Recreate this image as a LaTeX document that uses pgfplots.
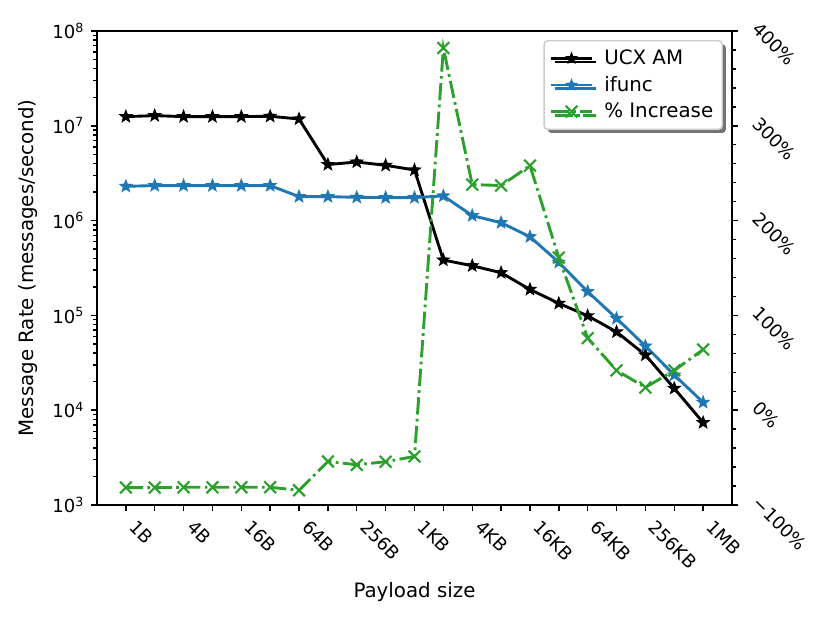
\documentclass[border=0pt]{standalone}
\usepackage{fontspec}
\setmainfont{DejaVu Sans}
\usepackage{pgfplots}
\pgfplotsset{compat=1.18}
\usetikzlibrary{shadows}
\definecolor{mplblue}{HTML}{1F77B4}
\definecolor{mplgreen}{HTML}{2CA02C}
\pgfdeclareplotmark{fstar}{%
  \pgfpathmoveto{\pgfpointpolar{90}{\pgfplotmarksize}}%
  \pgfpathlineto{\pgfpointpolar{126}{0.42\pgfplotmarksize}}%
  \pgfpathlineto{\pgfpointpolar{162}{\pgfplotmarksize}}%
  \pgfpathlineto{\pgfpointpolar{198}{0.42\pgfplotmarksize}}%
  \pgfpathlineto{\pgfpointpolar{234}{\pgfplotmarksize}}%
  \pgfpathlineto{\pgfpointpolar{270}{0.42\pgfplotmarksize}}%
  \pgfpathlineto{\pgfpointpolar{306}{\pgfplotmarksize}}%
  \pgfpathlineto{\pgfpointpolar{342}{0.42\pgfplotmarksize}}%
  \pgfpathlineto{\pgfpointpolar{18}{\pgfplotmarksize}}%
  \pgfpathlineto{\pgfpointpolar{54}{0.42\pgfplotmarksize}}%
  \pgfpathclose
  \pgfusepathqfillstroke
}
\begin{document}
\begin{tikzpicture}
\pgfplotsset{
  common/.style={
    at={(0,0)}, anchor=south west,
    scale only axis, width=352.54pt, height=263.16pt,
    xmin=-1, xmax=21,
    tick align=outside,
    major tick length=3.5pt, minor tick length=2pt,
    every tick/.style={black, line width=0.8pt},
    axis line style={line width=0.8pt},
    tick label style={font=\fontsize{10}{12}\selectfont},
    label style={font=\fontsize{11}{13}\selectfont},
  },
}
\begin{semilogyaxis}[common,
  ymin=1e3, ymax=1e8,
  xtick={0,...,20},
  xticklabels={1B,,4B,,16B,,64B,,256B,,1KB,,4KB,,16KB,,64KB,,256KB,,1MB},
  xticklabel style={xshift=6.5pt, yshift=-4pt, rotate=-45, anchor=north west, inner sep=0pt},
  ytick={1e3,1e4,1e5,1e6,1e7,1e8},
  yticklabels={10\textsuperscript{3},10\textsuperscript{4},10\textsuperscript{5},10\textsuperscript{6},10\textsuperscript{7},10\textsuperscript{8}},
  xtick pos=bottom, ytick pos=left,
  xlabel={Payload size},
  ylabel={Message Rate (messages/second)},
  xlabel style={at={(axis description cs:0.5,-0.1835)}, anchor=center},
  ylabel style={at={(axis description cs:-0.1087,0.5)}, anchor=center},
]
\addplot[black, line width=1.6pt, mark=fstar, mark size=3.4pt, mark options={line width=0.6pt}] coordinates {
(0,1.25e7) (1,1.28e7) (2,1.25e7) (3,1.25e7) (4,1.25e7) (5,1.26e7) (6,1.18e7)
(7,3.9e6) (8,4.15e6) (9,3.83e6) (10,3.42e6) (11,3.84e5) (12,3.34e5) (13,2.82e5)
(14,1.88e5) (15,1.34e5) (16,9.9e4) (17,6.7e4) (18,3.82e4) (19,1.70e4) (20,7.4e3)
};
\addplot[mplblue, line width=1.6pt, mark=fstar, mark size=3.4pt, mark options={line width=0.6pt}] coordinates {
(0,2.3e6) (1,2.34e6) (2,2.34e6) (3,2.34e6) (4,2.34e6) (5,2.34e6) (6,1.79e6)
(7,1.79e6) (8,1.76e6) (9,1.75e6) (10,1.75e6) (11,1.82e6) (12,1.13e6) (13,9.5e5)
(14,6.76e5) (15,3.63e5) (16,1.78e5) (17,9.3e4) (18,4.75e4) (19,2.35e4) (20,1.21e4)
};
\end{semilogyaxis}
\begin{axis}[common,
  ymin=-100, ymax=400,
  axis x line=none,
  axis y line*=right,
  ytick={-100,0,100,200,300,400},
  yticklabels={−100\%,0\%,100\%,200\%,300\%,400\%},
  minor y tick num=4,
  yticklabel style={xshift=12.5pt, yshift=5.8pt, rotate=-45, anchor=north west, inner sep=0pt},
  legend cell align=left,
  legend style={at={(axis description cs:0.9858,0.981)}, anchor=north east,
    draw=black!20, fill=white, rounded corners=2pt, line width=0.8pt,
    drop shadow={shadow xshift=2pt, shadow yshift=-2pt, fill=black!55, opacity=1},
    font=\fontsize{11}{13}\selectfont, row sep=1pt, inner xsep=3pt, inner ysep=3pt},
  legend image code/.code={\draw[mark repeat=2, mark phase=2, #1] plot coordinates {(0cm,0cm) (0.4cm,0cm) (0.8cm,0cm)}; \path (0.8cm+4pt,0cm);},
]
\addlegendimage{black, line width=1.6pt, mark=fstar, mark size=3pt, mark options={line width=0.6pt}}
\addlegendentry{UCX AM}
\addlegendimage{mplblue, line width=1.6pt, mark=fstar, mark size=3pt, mark options={line width=0.6pt}}
\addlegendentry{ifunc}
\addplot[mplgreen, line width=1.6pt, dash pattern=on 9.6pt off 2.4pt on 1.5pt off 2.4pt, mark=x, mark size=4.6pt, mark options={solid, line width=1.2pt}] coordinates {
(0,-81.6) (1,-81.7) (2,-81.3) (3,-81.3) (4,-81.3) (5,-81.3) (6,-84.5)
(7,-54) (8,-57.6) (9,-54.3) (10,-48.8) (11,382) (12,238) (13,237)
(14,258) (15,161) (16,76) (17,42) (18,24) (19,42) (20,64)
};
\addlegendentry{\% Increase}
\end{axis}
\pgfresetboundingbox
\path[use as bounding box] (-53.85pt,-65.51pt) rectangle (406.95pt,280.37pt);
\end{tikzpicture}
\end{document}
